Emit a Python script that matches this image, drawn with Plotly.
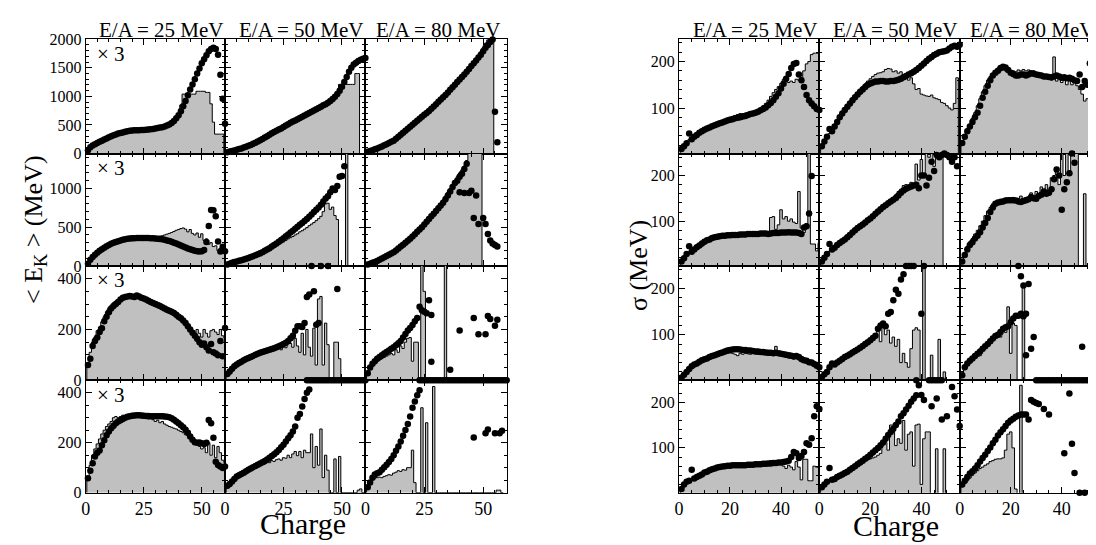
import numpy as np
import plotly.graph_objects as go

W, H = 1096, 545
ENERGY_LABELS = ["E/A = 25 MeV", "E/A = 50 MeV", "E/A = 80 MeV"]

# ---------------- <E_K> block (left) : histogram (model) and points, charge Z = 1..n
ek_h_r1_e25 = [40,100,150,175,200,220,240,260,280,300, 318,335,350,362,372,382,392,400,405,402, 408,404,410,408,412,415,418,422,428,435, 442,450,458,470,485,505,530,560,620,700, 850,1040,1040,1040,1040,1040,1040,1090,1090,1090, 1090,1070,1070,870,550,340,340,340,340,0]
ek_p_r1_e25 = [60,110,140,165,185,205,225,245,265,285, 305,320,335,350,360,370,380,390,398,403, 406,408,410,412,414,416,420,425,432,440, 448,455,462,475,490,510,535,570,620,670, 740,830,920,1020,1120,1210,1300,1400,1490,1580, 1650,1720,1790,1830,1850,1830,1730,1380,960,520]
ek_h_r1_e50 = [20,30,40,50,60,72,85,100,115,130, 148,165,185,205,228,250,275,300,325,350, 372,395,415,435,460,485,510,535,555,575, 595,618,640,662,685,705,725,748,770,792, 815,840,860,885,915,950,990,1050,1210,1210, 1210,1210,1210,1210,1210,1400,1400,0]
ek_p_r1_e50 = [25,35,45,55,65,78,90,105,120,135, 152,170,190,210,232,255,280,305,330,355, 378,400,420,440,465,490,515,540,560,580, 600,622,645,668,690,710,730,752,775,798, 820,845,865,890,920,955,995,1040,1100,1170, 1250,1340,1430,1500,1560,1590,1620,1640,1660,1670]
ek_h_r1_e80 = [35,50,65,80,95,112,130,150,170,190, 210,235,270,305,340,375,410,445,480,515, 550,585,620,655,690,720,755,795,835,875, 915,955,995,1040,1085,1130,1175,1220,1265,1310, 1355,1400,1450,1500,1550,1600,1650,1710,1780,1850, 1930,1990,2050,2100,0]
ek_p_r1_e80 = [30,45,60,75,90,105,125,145,165,185, 205,225,260,295,330,365,400,435,470,505, 540,575,610,645,680,710,745,785,825,865, 905,945,985,1025,1070,1115,1160,1205,1250,1295, 1340,1385,1430,1480,1530,1580,1630,1680,1730,1790, 1850,1900,1950,1995,730,200]

ek_h_r2_e25 = [40,90,130,160,185,210,230,250,270,285, 300,315,325,335,345,355,365,372,375,378, 380,382,378,385,380,375,378,372,370,375, 380,385,390,400,410,420,432,445,460,470, 482,490,475,440,470,420,400,425,370,415, 330,350,280,300,250,260,200,230,210,200]
ek_p_r2_e25 = [30,80,115,145,170,195,215,235,255,270, 285,298,310,320,330,338,345,350,354,357, 359,360,361,361,361,360,360,359,357,355, 352,348,344,338,330,322,312,300,290,278, 265,250,238,225,215,205,196,190,186,190, 205,310,516,723,720,640,315,186,248,190]
ek_h_r2_e50 = [15,25,35,45,55,63,72,82,92,102, 112,122,134,146,158,170,185,200,215,230, 245,262,280,295,310,330,350,365,380,400, 415,440,455,475,495,520,540,560,585,610, 640,700,800,810,730,760,650,600,0,0, 0,1600,0]
ek_p_r2_e50 = [20,30,40,50,58,66,75,84,94,104, 115,126,138,150,163,178,195,212,230,250, 270,290,312,335,358,382,405,430,455,480, 505,530,555,580,605,635,665,695,725,755, 790,830,870,900,950,1000,980,1030,1150,1160, 1285]
ek_h_r2_e80 = [25,35,45,58,72,88,104,120,138,155, 172,190,212,238,262,288,312,338,365,395, 425,455,485,518,552,588,622,658,695,730, 768,805,850,900,950,1000,1050,1100,1150,1200, 1240,1290,1360,1500,1500,1500,1500,1500,1500,0]
ek_p_r2_e80 = [20,30,40,52,65,80,95,112,128,145, 160,178,200,225,250,275,300,325,350,380, 410,440,470,500,535,570,605,640,675,710, 745,780,815,860,910,960,1020,1070,1100,1150, 1190,1250,1320,940,970,620,910,540,None,620, 540,413,330,290,270,250]
ek_xz_r2_e80 = [40, 42]
ek_xv_r2_e80 = [950, 940]

ek_h_r3_e25 = [70,110,150,170,195,210,230,250,270,285, 295,305,312,318,325,330,330,335,330,328, 330,325,320,318,315,310,305,300,297,293, 290,285,280,276,272,268,262,258,250,243, 236,228,218,208,198,190,180,200,185,170, 200,185,170,195,200,190,180,200,175,165]
ek_p_r3_e25 = [60,85,135,155,168,190,205,232,250,268, 283,292,300,308,318,325,328,330,332,330, 328,334,330,325,322,318,313,308,304,300, 296,292,287,283,278,274,270,265,258,250, 244,235,225,213,200,187,175,163,150,140, 145,130,117,143,110,105,98,155,95,206]
ek_h_r3_e50 = [20,30,40,50,58,64,70,75,80,84, 88,92,96,100,103,106,110,113,116,120, 124,128,132,120,140,128,150,145,130,165, 135,110,185,100,200,130,95,205,60,320, 330,60,225,140,0,0,150,150,85,0]
ek_p_r3_e50 = [25,35,45,55,62,68,73,79,84,88, 92,96,100,104,108,111,114,117,120,123, 126,130,134,138,143,148,155,165,175,195, 213,213,210,225,328,338,450,350,219,225, 450,None,None,450,None,None,None,359]
ek_xz_r3_e50 = [35,36,37,38,39,40,41,42,43,44,45,46,47,48,49,50,51,52,53,54,55,56,57,58,59,60]
ek_xv_r3_e50 = [0,0,0,0,0,0,0,0,0,0,0,0,0,0,0,0,0,0,0,0,0,0,0,0,0,0]
ek_h_r3_e80 = [30,45,55,65,75,80,85,90,95,100, 105,100,120,110,135,125,150,165,168,75, 150,150,0,500,350,0,0,0,0,0, 0,0,0,500,0]
ek_p_r3_e80 = [28,50,65,75,85,92,98,105,111,117, 124,130,138,146,155,168,182,196,206,218, 232,245,289,276,270,264,315,257,None,None, None,None,None,None,None,41,None,None,None,196, None,None,None,None,None,245,None,181,None,None, 181,253,241,None,215,238]
ek_xz_r3_e80 = [28,23,24,25,26,27,28,29,30,31,32,33,34,35,36,37,38,39,40,41,42,43,44,45,46,47,48,49,50,51,52,53,54,55,56,57,58,59,60]
ek_xv_r3_e80 = [73,0,0,0,0,0,0,0,0,0,0,0,0,0,0,0,0,0,0,0,0,0,0,0,0,0,0,0,0,0,0,0,0,0,0,0,0,0,0]

ek_h_r4_e25 = [65,110,150,175,195,215,235,250,265,275, 285,300,305,300,305,310,305,310,308,312, 315,312,315,305,310,300,295,300,292,285, 290,280,285,275,270,265,262,258,255,250, 245,240,232,228,222,218,210,195,185,175, 180,160,200,150,190,140,185,160,130,120]
ek_p_r4_e25 = [58,88,118,145,160,169,190,210,230,245, 258,268,278,285,290,295,300,304,306,308, 309,310,310,309,308,307,307,306,306,306, 306,306,306,305,304,302,298,292,285,278, 270,262,252,240,225,212,202,200,201,198, 195,200,291,278,220,124,111,105,99,105]
ek_h_r4_e50 = [25,35,45,52,60,66,72,78,84,90, 95,100,105,110,112,118,115,122,120,128, 125,132,135,130,140,138,150,140,155,165, 148,165,140,170,160,160,235,100,185,110, 255,60,150,90,0,0,135,0,145,0, 0,0,0,0,0,0,10,15,0]
ek_p_r4_e50 = [28,35,45,55,65,70,75,80,86,92, 97,102,107,112,117,122,127,133,140,147, 154,162,171,182,192,205,218,230,245,265, 300,315,345,375,400,413]
ek_h_r4_e80 = [30,45,55,58,60,62,60,65,68,72, 70,78,82,88,85,92,90,100,100,170, 40,0,0,340,0,280,0,0,425,0, 0,0,0,0,0,0,0,0,0,0, 0,0,0,0,0,0,0,0,0,0, 0,0,0,0,0,10,10,0]
ek_p_r4_e80 = [22,41,60,73,78,82,92,102,112,123, 135,150,168,185,205,228,251,275,305,340, 365,390,410,None,None,None,None,None,None,None, None,None,None,None,None,None,None,None,None,None, None,None,None,None,None,221,None,None,None,None, 238,253,None,None,238,None,238,248]

# ---------------- sigma block (right)
sig_h_r1_e25 = [10,20,28,32,36,40,44,48,51,54, 57,60,62,65,67,70,72,75,78,80, 82,84,86,88,88,89,90,90,91,93, 96,100,105,110,117,125,133,140,146,153, 162,168,155,158,155,162,160,165,180,195, 200,215,218,218,218]
sig_p_r1_e25 = [12,18,24,45,33,38,42,47,50,53, 56,58,61,63,65,67,69,71,73,75, 76,78,79,80,82,83,85,87,88,90, 92,95,98,101,106,111,117,124,132,142, 152,163,173,186,195,197,172,160,145,128, 117,110,104,98,96]
sig_h_r1_e50 = [15,25,35,45,55,63,72,80,88,96, 104,112,120,127,134,140,146,152,158,163, 168,172,175,176,178,183,185,184,178,180, 175,178,172,170,160,165,152,140,142,130, 128,126,125,128,122,120,118,112,110,105, 100,96,110,165]
sig_p_r1_e50 = [18,28,38,55,50,60,70,80,88,96, 103,110,117,123,129,135,140,145,150,153, 155,157,157,158,158,157,157,158,158,159, 161,163,166,169,172,175,178,182,186,191, 196,201,206,210,214,217,220,221,222,224, 228,232,234,232,236]
sig_h_r1_e80 = [30,42,55,65,78,90,105,120,135,148, 160,168,172,176,178,180,182,180,182,178, 180,178,182,180,183,180,182,178,180,176, 175,172,168,165,172,160,210,158,165,155, 160,150,158,150,160,148,140,130,115,120, 98,70,24]
sig_p_r1_e80 = [25,38,50,60,70,80,90,105,122,135, 148,160,170,176,180,186,189,187,182,176, 173,170,170,172,172,170,172,175,174,172, 171,170,168,168,167,166,168,170,168,165, 166,164,165,163,160,158,172,145,158,150, 196,155,153]

sig_h_r2_e25 = [10,18,26,32,36,40,44,48,52,55, 58,60,62,64,65,66,67,68,68,69, 69,70,70,70,71,71,72,72,72,72, 73,73,74,74,75,108,110,82,92,125, 105,110,100,105,98,95,165,85,75,95, 260,50,50,35,52]
sig_p_r2_e25 = [12,19,28,45,33,38,43,47,51,55, 58,60,63,65,66,67,68,68,69,69, 70,70,70,71,71,71,72,72,72,72, 72,73,73,73,72,73,74,74,74,75, 75,75,76,75,75,75,74,72,86,89, 117,199]
sig_h_r2_e50 = [10,18,26,34,40,45,50,54,58,62, 66,70,75,80,84,88,92,96,100,105, 110,115,120,125,130,135,140,145,150,158, 165,170,178,180,175,185,180,225,190,235, 200,260,240,270,220,265,260,270,0]
sig_p_r2_e50 = [12,20,28,50,38,42,48,52,56,60, 65,70,75,80,85,89,93,97,102,106, 111,116,121,126,131,135,139,143,147,151, 156,162,167,171,174,176,178,180,172,200, 200,178,195,230,210,245,240,245,248,245, 240,230,240,220]
sig_h_r2_e80 = [15,30,45,55,62,72,80,90,100,112, 122,130,138,143,145,148,148,150,148,150, 152,148,150,155,148,152,150,162,145,165, 150,175,160,180,165,195,200,215,180,255, 200,255,210,255,255,255,0,0,160,0]
sig_p_r2_e80 = [12,26,38,48,54,62,68,76,86,96, 107,120,130,138,141,142,143,145,146,146, 146,145,143,142,144,146,148,153,150,149, 155,158,165,160,162,170,192,213,200,125, 170,185,205,248,228]

sig_h_r3_e25 = [6,12,18,24,30,34,37,40,43,46, 48,50,52,53,55,56,58,59,60,61, 60,58,55,60,58,60,59,58,60,59, 58,58,57,58,56,58,56,75,60,55, 60,52,50,55,48,52,46,42,44,40, 38,36,33,30,42]
sig_p_r3_e25 = [8,14,20,26,32,36,38,42,45,47, 49,52,54,56,58,60,62,64,66,67, 68,69,69,68,67,67,66,66,65,64, 64,63,63,62,61,61,60,61,60,59, 58,57,56,55,53,54,52,48,45,44, 41,40,37,33,30]
sig_h_r3_e50 = [8,14,20,26,32,36,40,44,47,50, 53,56,60,63,66,70,74,78,82,86, 90,95,116,85,120,100,110,82,95,75, 90,40,60,40,30,70,110,115,110,0, 260,0,0,56,0,0,90,0,20,0]
sig_p_r3_e50 = [9,15,20,30,38,36,40,44,48,52, 55,58,62,65,68,72,76,80,84,88, 93,98,113,120,124,118,145,149,174,197, 188,219,230,250,250,250,250,0,None,145, 250]
sig_xz_r3_e50 = [43,44,45,46,47,48]
sig_xv_r3_e50 = [0,0,0,0,0,0]
sig_h_r3_e80 = [15,25,35,42,50,55,62,55,68,72, 80,85,92,98,105,95,112,105,160,60, 125,120,0,0,202,0]
sig_p_r3_e80 = [13,30,38,44,49,54,59,64,70,75, 80,86,92,97,100,106,113,116,118,127, 135,141,141,145,140,145,209,70,95,None, None,None,None,None,None,None,None,None,None,None, None,None,None,None,None,None,None,74,None,None, None,None,None,None,45]
sig_xz_r3_e80 = [23,24,25,26,30,31,32,33,34,35,36,37,38,39,40,41,42,43,44,45,46,47,48,49,50,51,52,53,54]
sig_xv_r3_e80 = [250,226,206,56,0,0,0,0,0,0,0,0,0,0,0,0,0,0,0,0,0,0,0,0,0,0,0,0,0]

sig_h_r4_e25 = [8,16,22,27,31,35,38,41,44,47, 49,52,54,56,57,58,59,60,60,61, 61,62,62,62,63,63,63,64,64,64, 65,66,67,68,70,72,70,72,68,72, 60,55,62,58,52,70,58,30,75,75, 28,28,60,58,56]
sig_p_r4_e25 = [10,20,26,28,52,33,36,39,42,46, 48,51,53,55,57,58,59,60,61,61, 62,62,62,62,62,62,63,63,63,64, 64,64,65,65,66,66,67,67,68,68, 69,70,72,80,91,88,78,82,91,110, 107,121,169,191,185]
sig_h_r4_e50 = [10,18,24,28,32,36,40,43,46,49, 52,55,58,62,65,68,70,72,74,76, 78,80,84,88,112,112,95,150,150,105, 120,110,160,95,130,135,60,150,152,20, 120,135,135,0,0,98,0,0,98,0]
sig_p_r4_e50 = [14,20,26,56,30,32,36,39,42,45, 48,52,56,60,64,68,72,76,80,85, 90,95,100,106,112,120,128,135,142,150, 158,169,176,184,192,201,208,215,237,216, 205,None,None,191,None,208,None,162,None,169, None,233,213,184,148]
sig_h_r4_e80 = [15,22,28,34,40,45,50,55,58,62, 65,70,72,75,76,76,78,95,130,135, 100,10,0,237,0]
sig_p_r4_e80 = [20,28,36,44,49,55,62,70,78,85, 93,101,110,118,127,134,141,148,155,160, 164,168,171,173,173,173,162,205,201,198, 196,None,185,None,173,None,None,None,None,None, 88,None,219,109,45]
sig_xz_r4_e80 = [47,49,54,55]
sig_xv_r4_e80 = [2,2,2,15]

EK_YRANGE = [[0, 2000], [0, 1450], [0, 450], [0, 450]]
EK_YDTICK = [500, 500, 200, 200]
EK_YMINOR = [100, 100, 50, 50]
SIG_YRANGE = [2, 248]

# ---------------- assemble tables from the named arrays
EK_H = [[ek_h_r1_e25, ek_h_r1_e50, ek_h_r1_e80], [ek_h_r2_e25, ek_h_r2_e50, ek_h_r2_e80],
        [ek_h_r3_e25, ek_h_r3_e50, ek_h_r3_e80], [ek_h_r4_e25, ek_h_r4_e50, ek_h_r4_e80]]
EK_P = [[ek_p_r1_e25, ek_p_r1_e50, ek_p_r1_e80], [ek_p_r2_e25, ek_p_r2_e50, ek_p_r2_e80],
        [ek_p_r3_e25, ek_p_r3_e50, ek_p_r3_e80], [ek_p_r4_e25, ek_p_r4_e50, ek_p_r4_e80]]
EK_X = {(1, 2): (ek_xz_r2_e80, ek_xv_r2_e80), (2, 1): (ek_xz_r3_e50, ek_xv_r3_e50),
        (2, 2): (ek_xz_r3_e80, ek_xv_r3_e80)}
SIG_H = [[sig_h_r1_e25, sig_h_r1_e50, sig_h_r1_e80], [sig_h_r2_e25, sig_h_r2_e50, sig_h_r2_e80],
         [sig_h_r3_e25, sig_h_r3_e50, sig_h_r3_e80], [sig_h_r4_e25, sig_h_r4_e50, sig_h_r4_e80]]
SIG_P = [[sig_p_r1_e25, sig_p_r1_e50, sig_p_r1_e80], [sig_p_r2_e25, sig_p_r2_e50, sig_p_r2_e80],
         [sig_p_r3_e25, sig_p_r3_e50, sig_p_r3_e80], [sig_p_r4_e25, sig_p_r4_e50, sig_p_r4_e80]]
SIG_X = {(2, 1): (sig_xz_r3_e50, sig_xv_r3_e50), (2, 2): (sig_xz_r3_e80, sig_xv_r3_e80),
         (3, 2): (sig_xz_r4_e80, sig_xv_r4_e80)}

LEFT_COLS = [(73, 213), (213, 354), (354, 496)]
RIGHT_COLS = [(669, 810), (810, 951), (951, 1092)]
ROWS = [(24, 142), (142, 258), (258, 376), (376, 492)]
FONT = "Liberation Serif, Times New Roman, serif"
GRAY = "#c0c0c0"


def hist_xy(vals):
    n = len(vals)
    x = [0.5] + [k - 0.5 for k in range(1, n + 1)] + [n + 0.5]
    y = [0] + list(vals) + [0]
    return x, y


def clip_pts(vals, lo, hi):
    out = []
    for v in vals:
        if v is None:
            out.append(None)
        else:
            out.append(float(np.clip(v, lo, hi)))
    return out


fig = go.Figure()
layout = {}
blocks = [
    dict(cols=LEFT_COLS, xr=[0, 60], xd=25, hist=EK_H, pts=EK_P, extra=EK_X, left=True),
    dict(cols=RIGHT_COLS, xr=[0, 55], xd=20, hist=SIG_H, pts=SIG_P, extra=SIG_X, left=False),
]

for b, blk in enumerate(blocks):
    for r in range(4):
        for c in range(3):
            k = b * 12 + r * 3 + c + 1
            xn = "x" if k == 1 else f"x{k}"
            yn = "y" if k == 1 else f"y{k}"
            if blk["left"]:
                yr = EK_YRANGE[r]
                yd, ym = EK_YDTICK[r], EK_YMINOR[r]
            else:
                yr = SIG_YRANGE
                yd, ym = 100, 20
            hx, hy = hist_xy(blk["hist"][r][c])
            fig.add_trace(go.Scatter(x=hx, y=hy, mode="lines", fill="tozeroy", fillcolor=GRAY,
                                     line=dict(color="black", width=1, shape="hv"),
                                     xaxis=xn, yaxis=yn, hoverinfo="skip", showlegend=False))
            pv = blk["pts"][r][c]
            zs = list(range(1, len(pv) + 1))
            ys = clip_pts(pv, yr[0], yr[1])
            if (r, c) in blk["extra"]:
                ez, ev = blk["extra"][(r, c)]
                zs = zs + list(ez)
                ys = ys + clip_pts(ev, yr[0], yr[1])
            fig.add_trace(go.Scatter(x=zs, y=ys, mode="markers",
                                     marker=dict(size=6.5, color="black"), cliponaxis=False,
                                     xaxis=xn, yaxis=yn, hoverinfo="skip", showlegend=False))
            x0, x1 = blk["cols"][c]
            y0, y1 = ROWS[r]
            common = dict(showgrid=False, zeroline=False, showline=True, linecolor="black",
                          linewidth=1, mirror="ticks", ticks="inside", ticklen=6, tickwidth=1,
                          tickcolor="black", tick0=0)
            layout["xaxis" if k == 1 else f"xaxis{k}"] = dict(
                domain=[x0 / W, x1 / W], range=blk["xr"], anchor=yn, dtick=blk["xd"],
                minor=dict(dtick=5, tick0=0, ticks="inside", ticklen=3, tickcolor="black"),
                showticklabels=(r == 3), tickfont=dict(family=FONT, size=18, color="black"),
                **common)
            layout["yaxis" if k == 1 else f"yaxis{k}"] = dict(
                domain=[1 - y1 / H, 1 - y0 / H], range=yr, anchor=xn, dtick=yd,
                minor=dict(dtick=ym, tick0=0, ticks="inside", ticklen=3, tickcolor="black"),
                showticklabels=(c == 0), tickfont=dict(family=FONT, size=16, color="black"),
                **common)

annotations = []
for cols in (LEFT_COLS, RIGHT_COLS):
    for c, (x0, x1) in enumerate(cols):
        shift = 6 if c < 2 else 2
        annotations.append(dict(text=ENERGY_LABELS[c], x=((x0 + x1) / 2 + shift) / W,
                                y=1 - 14 / H, xref="paper", yref="paper", showarrow=False,
                                xanchor="center", yanchor="middle",
                                font=dict(family=FONT, size=21, color="black")))
for r in range(4):
    annotations.append(dict(text="× 3", x=82 / W, y=1 - (ROWS[r][0] + 15) / H, xref="paper",
                            yref="paper", showarrow=False, xanchor="left", yanchor="middle",
                            font=dict(family=FONT, size=21, color="black")))
annotations.append(dict(text="Charge", x=291 / W, y=1 - 524 / H, xref="paper", yref="paper",
                        showarrow=False, xanchor="center", yanchor="middle",
                        font=dict(family=FONT, size=30, color="black")))
annotations.append(dict(text="Charge", x=887 / W, y=1 - 526 / H, xref="paper", yref="paper",
                        showarrow=False, xanchor="center", yanchor="middle",
                        font=dict(family=FONT, size=30, color="black")))
annotations.append(dict(text="< E<sub>K</sub> > (MeV)", x=22 / W, y=1 - 220 / H, xref="paper",
                        yref="paper", showarrow=False, textangle=-90, xanchor="center",
                        yanchor="middle", font=dict(family=FONT, size=26, color="black")))
annotations.append(dict(text="σ (MeV)", x=629 / W, y=1 - 258 / H, xref="paper",
                        yref="paper", showarrow=False, textangle=-90, xanchor="center",
                        yanchor="middle", font=dict(family=FONT, size=26, color="black")))

fig.update_layout(width=W, height=H, margin=dict(l=0, r=0, t=0, b=0),
                  paper_bgcolor="white", plot_bgcolor="white", showlegend=False,
                  font=dict(family=FONT, color="black"),
                  annotations=annotations, **layout)
fig.write_html("out.html")
